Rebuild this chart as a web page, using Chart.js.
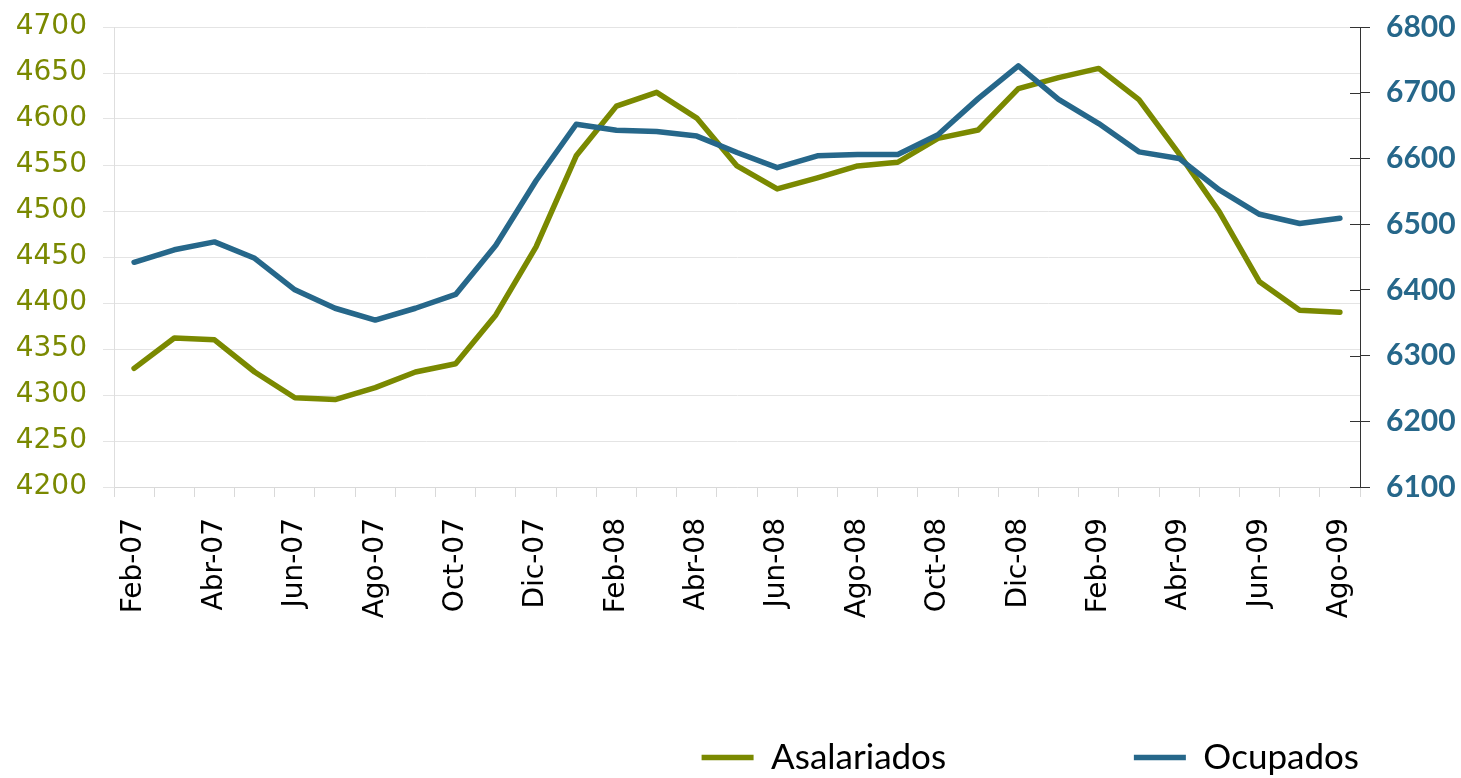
<!DOCTYPE html>
<html>
<head>
<meta charset="utf-8">
<script src="https://cdn.jsdelivr.net/npm/chart.js@4.4.1/dist/chart.umd.min.js"></script>
<style>
    html, body { margin: 0; padding: 0; background: #fff; }
    #wrap { width: 1461px; height: 778px; }
</style>
</head>
<body>
<div id="wrap"><canvas id="empleoChart"></canvas></div>
<script>
const olive = '#7a8900';
const blue = '#26678a';

const months = [
    'Feb-07', 'Mar-07', 'Abr-07', 'May-07', 'Jun-07', 'Jul-07', 'Ago-07', 'Sep-07', 'Oct-07', 'Nov-07', 'Dic-07',
    'Ene-08', 'Feb-08', 'Mar-08', 'Abr-08', 'May-08', 'Jun-08', 'Jul-08', 'Ago-08', 'Sep-08', 'Oct-08', 'Nov-08', 'Dic-08',
    'Ene-09', 'Feb-09', 'Mar-09', 'Abr-09', 'May-09', 'Jun-09', 'Jul-09', 'Ago-09'
];

// miles de personas, eje izquierdo
const asalariados = [
    4329, 4362, 4360, 4325, 4297, 4295, 4308, 4325, 4334, 4387, 4461,
    4560, 4614, 4629, 4601, 4549, 4524, 4536, 4549, 4553, 4579, 4588, 4633,
    4645, 4655, 4621, 4562, 4499, 4423, 4392, 4390
];

// miles de personas, eje derecho
const ocupados = [
    6442, 6461, 6473, 6448, 6400, 6372, 6354, 6372, 6393, 6468, 6566,
    6652, 6643, 6641, 6634, 6609, 6586, 6604, 6606, 6606, 6636, 6691, 6741,
    6690, 6653, 6610, 6600, 6552, 6515, 6501, 6509
];

const leftTicks = { min: 4200, max: 4700, step: 50 };
const rightTicks = { min: 6100, max: 6800, step: 100 };

// small tick marks on the inner side of the right axis
const crossTicks = {
    id: 'crossTicks',
    afterDraw(chart) {
        const s = chart.scales.y1;
        const ctx = chart.ctx;
        ctx.save();
        ctx.strokeStyle = '#333';
        ctx.lineWidth = 1;
        s.ticks.forEach((t, i) => {
            const y = Math.round(s.getPixelForTick(i)) + 0.5;
            ctx.beginPath();
            ctx.moveTo(s.left - 10, y);
            ctx.lineTo(s.left, y);
            ctx.stroke();
        });
        ctx.restore();
    }
};

// legend ends near the right axis instead of the canvas edge, and sits a bit lower
const legendPlace = {
    id: 'legendPlace',
    afterLayout(chart) {
        const lg = chart.legend;
        lg.right = chart.scales.y1.left + 3;
        lg.top += 7;
        lg.bottom += 7;
    }
};

const legendGap = '\u2003\u2003\u2003\u2003\u2003\u2003\u2003';

new Chart(document.getElementById('empleoChart'), {
    type: 'line',
    data: {
        labels: months,
        datasets: [{
            label: 'Asalariados',
            data: asalariados,
            yAxisID: 'y',
            borderColor: olive,
            backgroundColor: olive,
            borderWidth: 5.5,
            borderCapStyle: 'round',
            borderJoinStyle: 'round',
            pointRadius: 0,
            tension: 0,
            order: 1
        }, {
            label: 'Ocupados',
            data: ocupados,
            yAxisID: 'y1',
            borderColor: blue,
            backgroundColor: blue,
            borderWidth: 5.5,
            borderCapStyle: 'round',
            borderJoinStyle: 'round',
            pointRadius: 0,
            tension: 0,
            order: 0 // drawn on top, like the original
        }]
    },
    options: {
        responsive: true,
        maintainAspectRatio: false,
        animation: false,
        layout: {
            padding: { top: 27, left: 0, right: 0, bottom: 0 }
        },
        scales: {
            x: {
                offset: true,
                grid: {
                    offset: true,
                    drawOnChartArea: false,
                    color: '#d9d9d9',
                    tickLength: 10
                },
                border: { color: '#d9d9d9' },
                ticks: {
                    autoSkip: false,
                    minRotation: 90,
                    maxRotation: 90,
                    padding: 21,
                    color: '#000',
                    font: { family: 'DejaVu Sans', size: 28 },
                    callback: function(value, index) {
                        return index % 2 === 0 ? months[index] : '';
                    }
                },
                afterFit: function(scale) {
                    scale.height = 242;
                }
            },
            y: {
                position: 'left',
                min: leftTicks.min,
                max: leftTicks.max,
                grid: {
                    color: '#e4e4e4',
                    tickLength: 11
                },
                border: { color: '#dedede' },
                ticks: {
                    stepSize: leftTicks.step,
                    padding: 16,
                    color: olive,
                    font: { family: 'DejaVu Sans', size: 28, lineHeight: 0.6 },
                    callback: value => String(value)
                },
                afterFit: function(scale) {
                    scale.width = 114;
                }
            },
            y1: {
                position: 'right',
                min: rightTicks.min,
                max: rightTicks.max,
                grid: {
                    drawOnChartArea: false,
                    color: '#333',
                    tickLength: 10
                },
                border: { color: '#333' },
                ticks: {
                    stepSize: rightTicks.step,
                    padding: 16,
                    color: blue,
                    font: { family: 'Lato', size: 30, weight: 'bold', lineHeight: 0.6 },
                    callback: value => String(value)
                },
                afterFit: function(scale) {
                    scale.width = 101;
                }
            }
        },
        plugins: {
            legend: {
                position: 'bottom',
                align: 'end',
                labels: {
                    usePointStyle: true,
                    pointStyle: 'line',
                    pointStyleWidth: 52,
                    padding: 4,
                    color: '#000',
                    font: { family: 'Lato', size: 35, lineHeight: 1 },
                    sort: (a, b) => a.datasetIndex - b.datasetIndex,
                    generateLabels: function(chart) {
                        const items = Chart.defaults.plugins.legend.labels.generateLabels(chart);
                        items.forEach(item => {
                            if (item.datasetIndex === 0) {
                                item.text += legendGap;
                            }
                        });
                        return items;
                    }
                }
            },
            tooltip: { enabled: false }
        }
    },
    plugins: [crossTicks, legendPlace]
});
</script>
</body>
</html>
